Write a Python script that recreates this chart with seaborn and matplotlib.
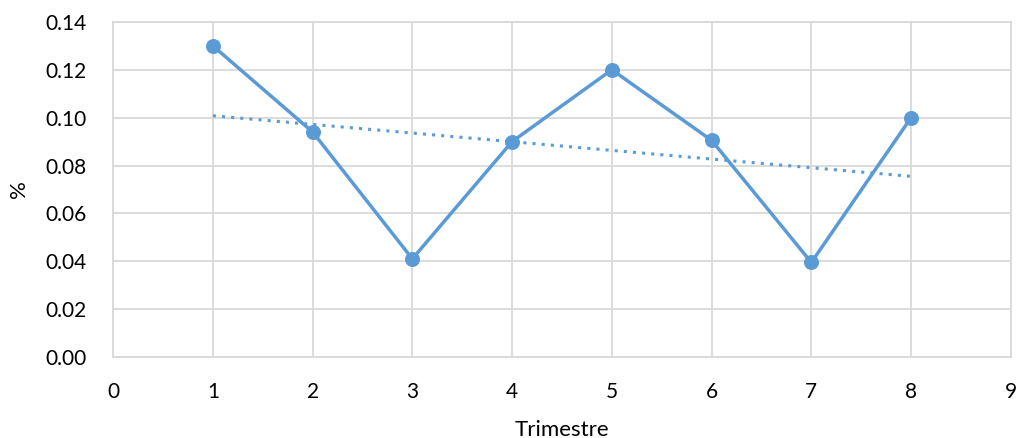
import numpy as np
import pandas as pd
import matplotlib
matplotlib.use("Agg")
import matplotlib.pyplot as plt
import seaborn as sns

trimestre = [1, 2, 3, 4, 5, 6, 7, 8]
valeurs = [0.130, 0.094, 0.041, 0.090, 0.120, 0.0905, 0.0395, 0.100]
couleur = "#5B9BD5"

df = pd.DataFrame({"Trimestre": trimestre, "pct": valeurs})

sns.set_style("white")
plt.rcParams["font.family"] = ["Lato", "DejaVu Sans"]

fig = plt.figure(figsize=(10.19, 4.38), dpi=100)
ax = fig.add_axes([0.111, 0.185, 0.881, 0.765])

sns.lineplot(data=df, x="Trimestre", y="pct", color=couleur, linewidth=2.5,
             marker="o", markersize=10, markeredgecolor=couleur, ax=ax, zorder=3)
# tendance linéaire
sns.regplot(data=df, x="Trimestre", y="pct", ci=None, scatter=False, truncate=True,
            line_kws={"color": couleur, "linestyle": (0, (1, 2)), "linewidth": 2.2}, ax=ax)

ax.set_xlim(0, 9)
ax.set_ylim(0, 0.14)
ax.set_xticks(range(0, 10))
ax.set_yticks(np.arange(0, 0.141, 0.02))
ax.set_yticklabels([f"{v:.2f}" for v in np.arange(0, 0.141, 0.02)])
ax.grid(True, color="#D9D9D9", linewidth=1.3)
ax.set_axisbelow(True)
for s in ax.spines.values():
    s.set_color("#D9D9D9")
    s.set_linewidth(1.3)
ax.tick_params(axis="y", labelsize=15, length=0, pad=19, labelcolor="black")
ax.tick_params(axis="x", labelsize=15, length=0, pad=18, labelcolor="black")
ax.set_xlabel("Trimestre", fontsize=16, labelpad=13, color="black")
ax.set_ylabel("%", fontsize=16, labelpad=12, color="black")

fig.savefig("out.png", dpi=100)
